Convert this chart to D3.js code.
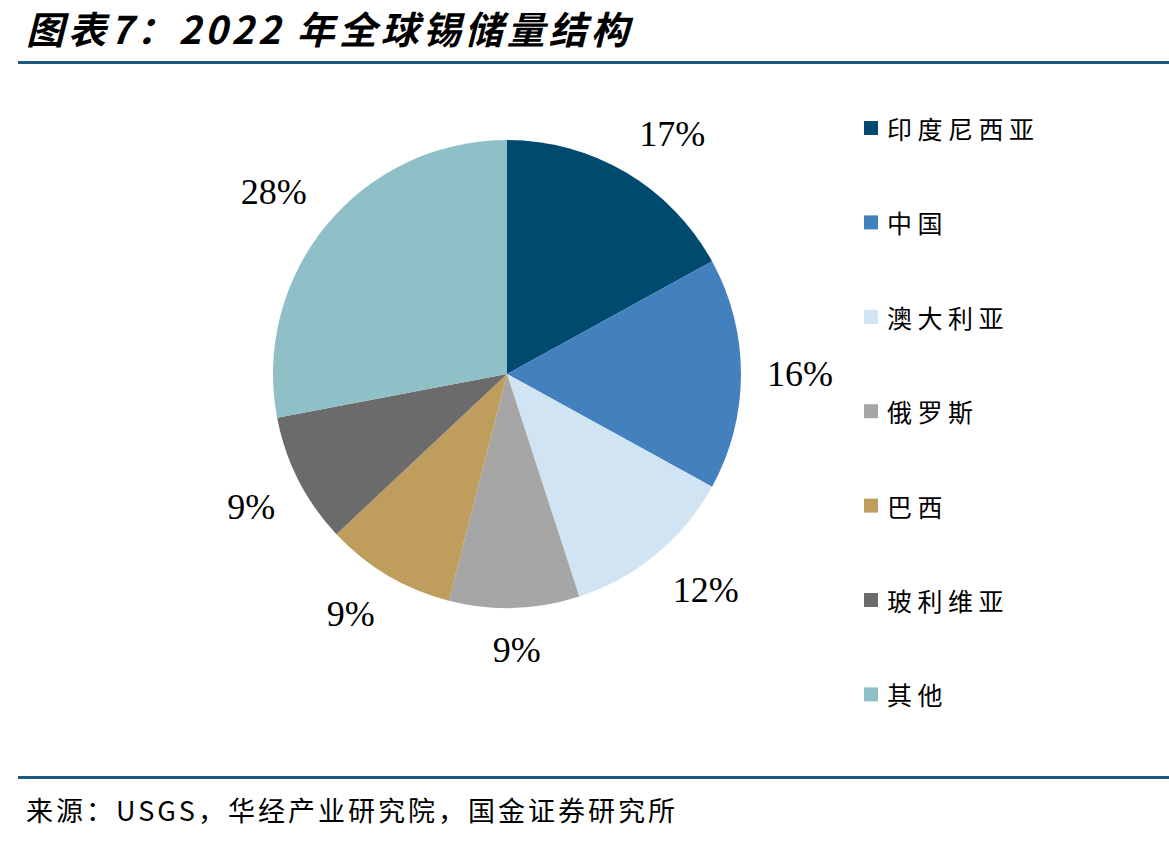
<!DOCTYPE html>
<html>
<head>
<meta charset="utf-8">
<script src="https://cdn.jsdelivr.net/npm/d3@7"></script>
<style>
  body { margin: 0; background: #fff; }
  svg { display: block; }
</style>
</head>
<body>
<div class="chart"></div>
<script>
// 2022 全球锡储量结构 - pie
var countries = ["印度尼西亚", "中国", "澳大利亚", "俄罗斯", "巴西", "玻利维亚", "其他"];
var shares = [17, 16, 12, 9, 9, 9, 28];
var colors = ["#004A6F", "#4380BE", "#D1E4F3", "#A6A6A6", "#BF9D5C", "#6B6B6B", "#90C0C7"];

var svgWidth = 1169, svgHeight = 841;
var cx = 507, cy = 374, radius = 234;

var svg = d3.select(".chart").append("svg").attr("width", svgWidth).attr("height", svgHeight);

// title + rules
svg.append("text").attr("x", 26).attr("y", 44)
  .attr("font-family", "'Noto Sans CJK SC'").attr("font-weight", "bold").attr("font-style", "italic")
  .attr("font-size", 38).attr("letter-spacing", 4).attr("fill", "#000").text("图表7：2022 年全球锡储量结构");
svg.append("rect").attr("x", 18).attr("y", 61).attr("width", svgWidth - 18).attr("height", 3).attr("fill", "#1D5A80");
svg.append("rect").attr("x", 18).attr("y", 776).attr("width", svgWidth - 18).attr("height", 3).attr("fill", "#1D5A80");
svg.append("text").attr("x", 26).attr("y", 821)
  .attr("font-family", "'Noto Sans CJK SC'").attr("font-size", 27).attr("letter-spacing", 3).attr("fill", "#000")
  .text("来源：USGS，华经产业研究院，国金证券研究所");

// pie
var data = countries.map(function(c, i) { return {name: c, value: shares[i], color: colors[i]}; });
var pie = d3.pie().sort(null).value(d => d.value);
var arc = d3.arc().innerRadius(0).outerRadius(radius);
var arcs = pie(data);
var g = svg.append("g").attr("transform", `translate(${cx}, ${cy})`);
g.selectAll("path").data(arcs).enter().append("path")
  .attr("d", arc).attr("fill", d => d.data.color);

// labels: outside end, bounding box touching a ring just outside the pie
var labelR = radius + 26;
g.selectAll("text.pct").data(arcs).enter().append("text")
  .attr("class", "pct")
  .attr("font-family", "'Liberation Serif', 'Times New Roman', serif")
  .attr("font-size", 36).attr("fill", "#000")
  .attr("text-anchor", "middle").attr("dominant-baseline", "central")
  .text(d => d.data.value + "%")
  .each(function(d) {
    var a = (d.startAngle + d.endAngle) / 2;
    var s = Math.sin(a), c = -Math.cos(a);
    var bb = this.getBBox();
    var px = labelR * s, py = labelR * c;
    var x = px + Math.sign(s) * Math.min(1, Math.abs(s) * 2) * bb.width / 2;
    var y = py + Math.sign(c) * Math.min(1, Math.abs(c) * 2) * bb.height / 2 * 0.8;
    d3.select(this).attr("x", x).attr("y", y);
  });

// legend
var legend = svg.append("g").attr("transform", "translate(864, 128)");
var item = legend.selectAll("g").data(data).enter().append("g")
  .attr("transform", (d, i) => `translate(0, ${i * 94.4})`);
item.append("rect").attr("x", 0).attr("y", -7).attr("width", 14).attr("height", 14).attr("fill", d => d.color);
item.append("text").attr("x", 23).attr("y", 0).attr("dominant-baseline", "central")
  .attr("font-family", "'Noto Sans CJK SC'").attr("font-size", 25).attr("letter-spacing", 5.5)
  .attr("fill", "#000").text(d => d.name);
</script>
</body>
</html>
